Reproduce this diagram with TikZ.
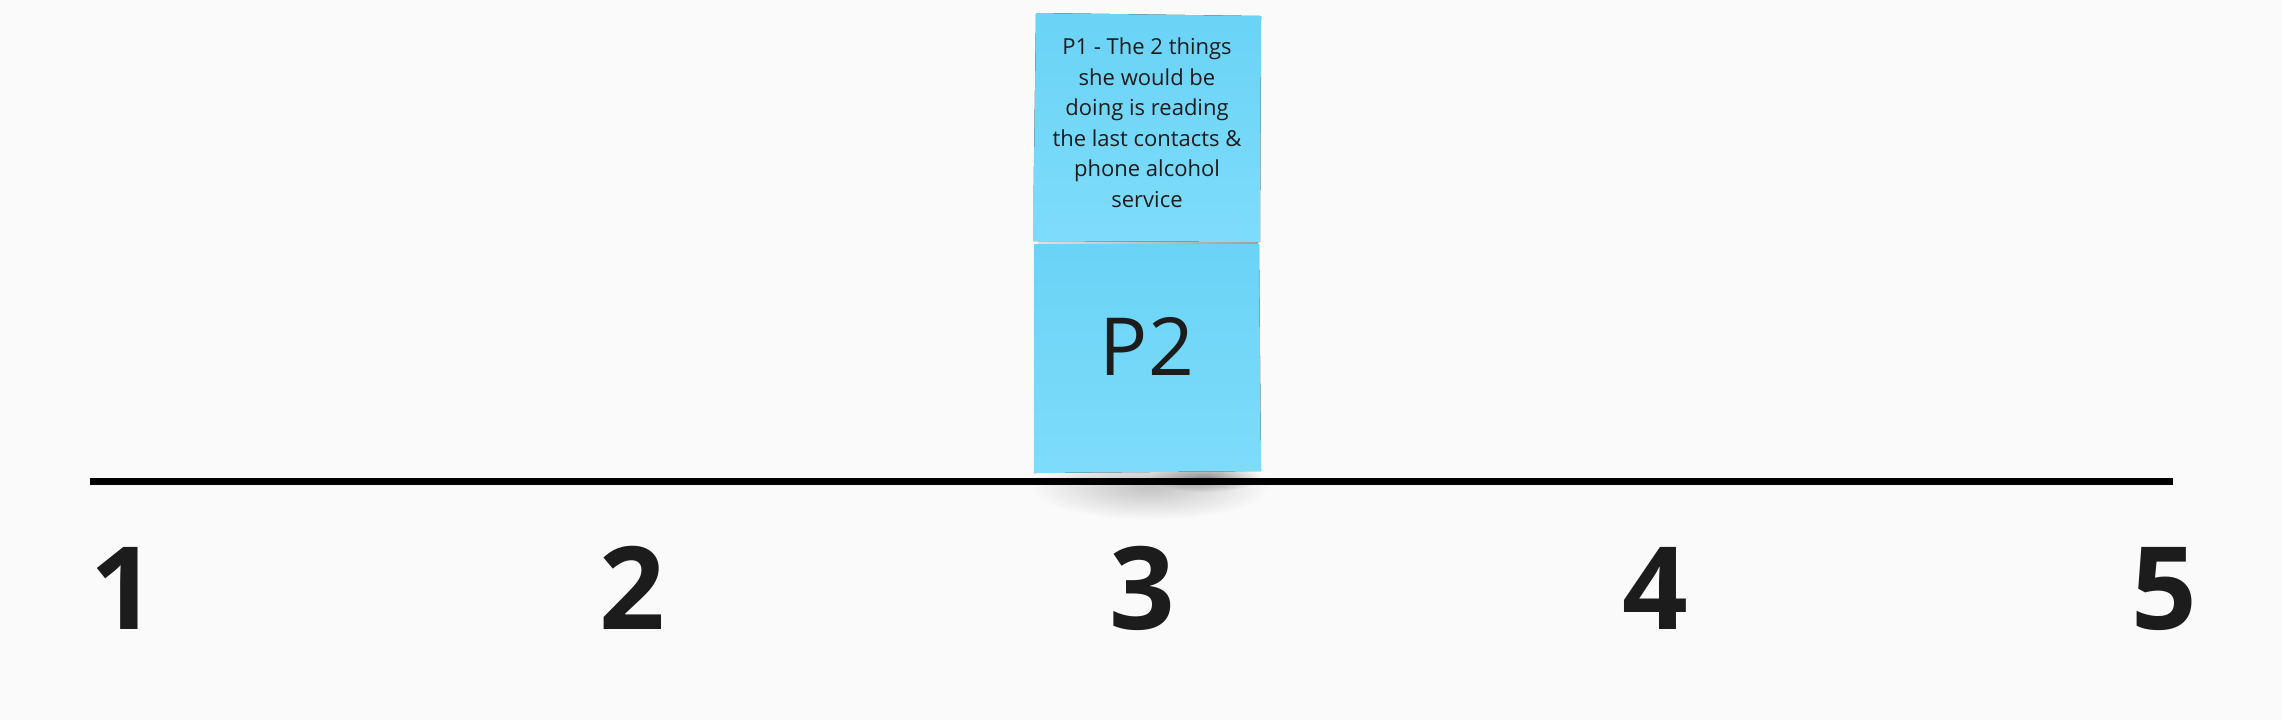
\documentclass[tikz,border=0pt]{standalone}
\usepackage{fontspec}
\setmainfont{Open Sans}
\usetikzlibrary{fadings}
\definecolor{bg}{HTML}{FAFAFA}
\definecolor{stickytop}{RGB}{106,211,246}
\definecolor{stickybot}{RGB}{126,220,251}
\definecolor{ink}{HTML}{1C1C1C}
\tikzfading[name=softshadow, inner color=transparent!0, outer color=transparent!100]
\begin{document}
\begin{tikzpicture}[x=0.01cm,y=-0.01cm,
  sticky/.style={top color=stickytop, bottom color=stickybot, draw=none},
  numlabel/.style={font=\fontsize{32.7pt}{32.7pt}\selectfont\bfseries, text=ink, anchor=base, inner sep=0pt},
  notetext/.style={font=\fontsize{6.26pt}{8.65pt}\selectfont, text=ink, align=center, inner sep=0pt},
  bigtext/.style={font=\fontsize{22.8pt}{22.8pt}\selectfont, text=ink, anchor=base, inner sep=0pt},
  axisline/.style={line width=2pt, black},
]
\fill[bg] (0,0) rectangle (2282,720);
\useasboundingbox (0,0) rectangle (2282,720);
% shadow below the lower note
\fill[black, fill opacity=0.22, path fading=softshadow] (1150,486) ellipse [x radius=120, y radius=34];
\fill[black, fill opacity=0.35, path fading=softshadow] (1205,478) ellipse [x radius=55, y radius=14];
% axis
\coordinate (axisL) at (90,481.5);
\coordinate (axisR) at (2173,481.5);
\draw[axisline] (axisL) -- (axisR);
% thin shadow between notes
\shade[left color=gray!25, right color=gray!75] (1038,240) rectangle (1258,246);
% notes
\fill[sticky] (1036,13) -- (1261,16) -- (1260,242) -- (1033,241) -- cycle;
\fill[sticky] (1034,244) -- (1259,244) -- (1261,471) -- (1034,473) -- cycle;
\node[notetext, anchor=north] (p1) at (1147,37.5) {P1 - The 2 things\\she would be\\doing is reading\\the last contacts \&\\phone alcohol\\service};
\node[bigtext] (p2) at (1147,375) {P2};
% scale numbers
\node[numlabel] (n1) at (123,629) {1};
\node[numlabel] (n2) at (632,629) {2};
\node[numlabel] (n3) at (1142,629) {3};
\node[numlabel] (n4) at (1655,629) {4};
\node[numlabel] (n5) at (2164,629) {5};
\end{tikzpicture}
\end{document}
